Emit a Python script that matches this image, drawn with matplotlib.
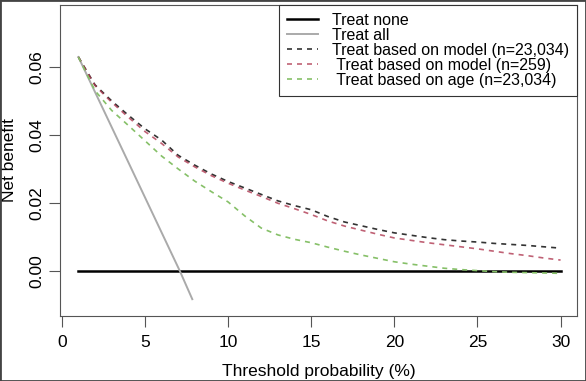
import numpy as np
import matplotlib
matplotlib.use("Agg")
import matplotlib.pyplot as plt

plt.rc("font", size=12.5, family="Liberation Sans")

# threshold probabilities (%)
thr = np.arange(1, 31)

nb_model_all = [0.0629, 0.0547, 0.0500, 0.0458, 0.0418, 0.0385, 0.0340, 0.0311,
                0.0285, 0.0263, 0.0244, 0.0225, 0.0206, 0.0192, 0.0180, 0.0160,
                0.0144, 0.0133, 0.0122, 0.0112, 0.0105, 0.0098, 0.0092, 0.0088,
                0.0085, 0.0081, 0.0078, 0.0075, 0.0071, 0.0067]
nb_model_259 = [0.0629, 0.0545, 0.0496, 0.0452, 0.0410, 0.0375, 0.0335, 0.0306,
                0.0280, 0.0258, 0.0238, 0.0219, 0.0199, 0.0183, 0.0166, 0.0147,
                0.0132, 0.0120, 0.0108, 0.0097, 0.0090, 0.0083, 0.0077, 0.0071,
                0.0065, 0.0058, 0.0051, 0.0045, 0.0038, 0.0032]
nb_age = [0.0629, 0.0530, 0.0472, 0.0428, 0.0383, 0.0338, 0.0300, 0.0264,
          0.0233, 0.0203, 0.0162, 0.0126, 0.0106, 0.0093, 0.0083, 0.0070,
          0.0058, 0.0047, 0.0037, 0.0027, 0.0020, 0.0014, 0.0008, 0.0004,
          0.0001, -0.0002, -0.0004, -0.0005, -0.0006, -0.0007]

all_x = [1, 4, 7.1, 7.85]
all_y = [0.0629, 0.0320, 0.0, -0.0083]
none_x = [1, 30]
none_y = [0, 0]

fig = plt.figure(figsize=(5.86, 3.81), dpi=100)
ax = fig.add_axes([0.102, 0.171, 0.883, 0.816])

ax.plot(none_x, none_y, color='black', lw=1.8, label='Treat none')
ax.plot(all_x, all_y, color='#aaaaaa', lw=1.4, label='Treat all')
ax.plot(thr, nb_model_all, color='#333333', lw=1.2, dashes=(3, 3),
        label='Treat based on model (n=23,034)')
ax.plot(thr, nb_model_259, color='#b03a52', lw=1.2, dashes=(3, 3), alpha=0.8,
        label=' Treat based on model (n=259)')
ax.plot(thr, nb_age, color='#86c068', lw=1.2, dashes=(3, 3),
        label=' Treat based on age (n=23,034)')

ax.set_xlim(-0.12, 31.0)
ax.set_ylim(-0.0132, 0.0782)
ax.set_xticks([0, 5, 10, 15, 20, 25, 30])
ax.set_yticks([0.00, 0.02, 0.04, 0.06])
ax.set_yticklabels(['0.00', '0.02', '0.04', '0.06'], rotation=90, va='center')
ax.tick_params(direction='out', length=8, width=0.8, color='#555555')
ax.tick_params(axis='x', pad=6)
ax.tick_params(axis='y', pad=3)
for s in ax.spines.values():
    s.set_color('#555555')
    s.set_linewidth(0.8)

ax.set_xlabel('Threshold probability (%)', labelpad=10)
ax.set_ylabel('Net benefit', labelpad=9)

leg = ax.legend(loc='upper right', borderaxespad=0, fancybox=False,
                framealpha=1, edgecolor='#333333', labelspacing=0.0,
                handlelength=1.9, handletextpad=0.9, borderpad=0.5,
                fontsize=11.5)
leg.get_frame().set_linewidth(0.8)

fig.patches.append(plt.Rectangle((0, 0), 1, 1, transform=fig.transFigure,
                                 fill=False, edgecolor='#444444', lw=2))

fig.savefig('out.png', dpi=100)
